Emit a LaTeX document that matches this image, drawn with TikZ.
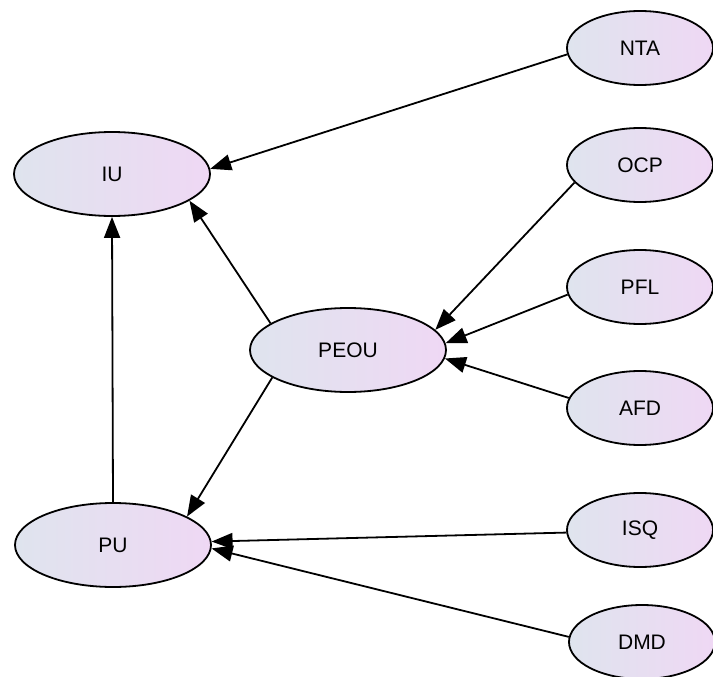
\documentclass[tikz,border=0pt]{standalone}
\usepackage{fontspec}
\setmainfont{Liberation Sans}
\usetikzlibrary{shapes.geometric,arrows.meta}
\definecolor{shadeLeft}{HTML}{DFE4EE}
\definecolor{shadeRight}{HTML}{EFD8F4}

\begin{document}
\begin{tikzpicture}[x=1pt,y=-1pt,
            ellNode/.style={ellipse, draw, line width=1.8pt, inner sep=0pt,
                left color=shadeLeft, right color=shadeRight,
                font=\fontsize{21}{25}\selectfont},
            bigNode/.style={ellNode, minimum width=196pt, minimum height=84pt},
            smallNode/.style={ellNode, minimum width=146pt, minimum height=74pt},
            edgeArrow/.style={-{Triangle[length=21pt,width=16pt]}, line width=1.8pt}]

            \useasboundingbox (0,0) rectangle (713,677);

            \node [bigNode](nodeIU) at (112,174){IU};
            \node [bigNode](nodePEOU) at (348,350){PEOU};
            \node [bigNode](nodePU) at (113,545){PU};

            \node [smallNode](nodeNTA) at (640,48){NTA};
            \node [smallNode](nodeOCP) at (640,165){OCP};
            \node [smallNode](nodePFL) at (640,287){PFL};
            \node [smallNode](nodeAFD) at (640,408){AFD};
            \node [smallNode](nodeISQ) at (640,530){ISQ};
            \node [smallNode](nodeDMD) at (642,642){DMD};

            \draw[edgeArrow] (nodeNTA.185) -- (nodeIU.3);
            \draw[edgeArrow] (nodePEOU.161) -- (nodeIU.341);
            \draw[edgeArrow] (nodePU.north) -- (nodeIU.south);
            \draw[edgeArrow] (nodeOCP.195) -- (nodePEOU.13);
            \draw[edgeArrow] (nodePFL.186) -- (nodePEOU.4);
            \draw[edgeArrow] (nodeAFD.172) -- (nodePEOU.355);
            \draw[edgeArrow] (nodePEOU.200) -- (nodePU.21);
            \draw[edgeArrow] (nodeISQ.182) -- (nodePU.2);
            \draw[edgeArrow] (nodeDMD.176) -- (nodePU.358);
        \end{tikzpicture}
\end{document}
